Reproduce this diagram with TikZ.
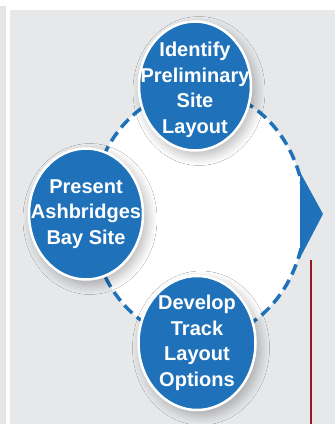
\documentclass[tikz,border=0pt]{standalone}
\usepackage{fontspec}
\setmainfont{Liberation Sans}
\usetikzlibrary{shapes.geometric,shadows.blur}
\definecolor{cycleblue}{RGB}{31,114,186}
\definecolor{panelgray}{RGB}{231,232,234}
\definecolor{darkred}{RGB}{150,24,30}
\pgfdeclareradialshading{glow}{\pgfpoint{0bp}{0bp}}{color(0bp)=(white);color(40bp)=(white);color(50bp)=(panelgray)}
\tikzset{
  stage/.style={ellipse, fill=cycleblue, draw=white, line width=2.5pt,
    minimum width=112pt, minimum height=129pt, inner sep=0pt,
    blur shadow={shadow xshift=4pt, shadow yshift=-5pt, shadow blur radius=10pt,
      shadow blur steps=14, shadow opacity=30}},
  stagetext/.style={align=center, text=white, inner sep=0pt,
    font=\bfseries\fontsize{20}{25.5}\selectfont}
}
\begin{document}
\begin{tikzpicture}[x=1pt,y=-1pt]
\useasboundingbox (0,0) rectangle (335,424);
\fill [white] (0,0) rectangle (335,424);
\fill [gray!20] (0,6) rectangle (6,424);
\draw [white, line width=2pt, fill=panelgray] (9,9) rectangle (340,430);
\shade [shading=glow] (198,214.5) ellipse [x radius=107, y radius=125];
\draw [cycleblue, line width=3.5pt, dash pattern=on 11pt off 6pt] (198,214.5) ellipse [x radius=107, y radius=125];
\fill [cycleblue] (300,172) -- (323,214) -- (300,258) -- cycle;
\node [stage] (identify) at (195,86) {};
\node [stage, minimum width=114pt, minimum height=131pt] (present) at (86,214) {};
\node [stage, minimum width=117pt, minimum height=134pt] (develop) at (197,343) {};
\node [stagetext] at ([yshift=-4pt]identify.center) {Identify\\Preliminary\\Site\\Layout};
\node [stagetext] at (present.center) {Present\\Ashbridges\\Bay Site};
\node [stagetext] at (develop.center) {Develop\\Track\\Layout\\Options};
\draw [darkred, line width=2pt] (311,260) -- (311,424);
\end{tikzpicture}
\end{document}
